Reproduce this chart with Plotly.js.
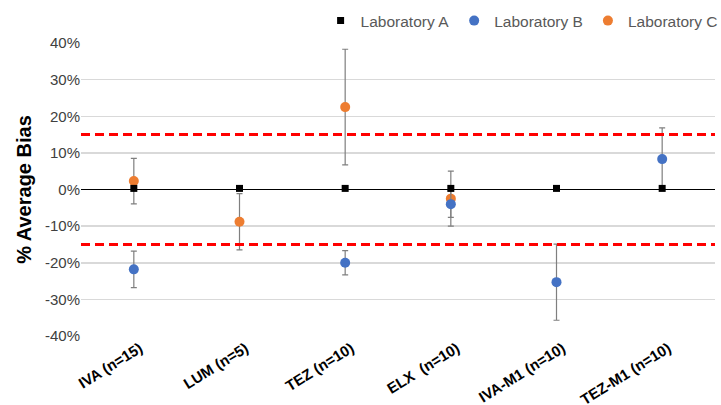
<!DOCTYPE html>
<html>
<head>
<meta charset="utf-8">
<script src="https://cdn.plot.ly/plotly-3.0.1.min.js"></script>
<style>html,body{margin:0;padding:0;background:#fff;}#chart{width:721px;height:405px;}</style>
</head>
<body>
<div id="chart"></div>
<script>
const categories = ["IVA (n=15)", "LUM (n=5)", "TEZ (n=10)", "ELX\u00a0 (n=10)", "IVA-M1 (n=10)", "TEZ-M1 (n=10)"];
const labA = [0.3, 0.3, 0.3, 0.3, 0.3, 0.3];
const labB = [-21.8, null, -20.0, -4.0, -25.3, 8.3];
const labBErr = [5.0, null, 3.3, 3.6, 10.4, 8.5];
const labC = [2.3, -8.8, 22.5, -2.5, null, null];
const labCErr = [6.2, 7.7, 15.8, 7.5, null, null];
const limits = [15, -15];
const yTicks = [-40, -30, -20, -10, 0, 10, 20, 30, 40];
const yTickText = yTicks.map(v => v + "%");

const errStyle = {type: "data", visible: true, color: "#7f7f7f", thickness: 1.2, width: 3};

const traces = [
  {
    x: categories, y: labC, name: "Laboratory C", type: "scatter", mode: "markers",
    marker: {color: "#ED7D31", size: 10, symbol: "circle"},
    error_y: Object.assign({array: labCErr}, errStyle),
    legendrank: 3
  },
  {
    x: categories, y: labB, name: "Laboratory B", type: "scatter", mode: "markers",
    marker: {color: "#4472C4", size: 10, symbol: "circle"},
    error_y: Object.assign({array: labBErr}, errStyle),
    legendrank: 2
  },
  {
    x: categories, y: labA, name: "Laboratory A", type: "scatter", mode: "markers",
    marker: {color: "#000000", size: 7, symbol: "square"},
    legendrank: 1
  }
];

const shapes = limits.map(v => ({
  type: "line", xref: "paper", x0: 0, x1: 1, yref: "y", y0: v, y1: v,
  line: {color: "#FF0000", width: 3, dash: "9px,5px"}, layer: "above"
}));

const layout = {
  width: 721, height: 405,
  margin: {l: 81, r: 6, t: 43, b: 69, autoexpand: false},
  paper_bgcolor: "#fff", plot_bgcolor: "#fff",
  showlegend: true,
  legend: {orientation: "h", x: 1.012, xanchor: "right", y: 1.075, yanchor: "middle",
    font: {family: "Arial, Liberation Sans, sans-serif", size: 15.5, color: "#595959"},
    traceorder: "normal", itemwidth: 30},
  xaxis: {
    type: "category", range: [-0.5, 5.5], showgrid: false, zeroline: false,
    showline: false, ticks: "", tickangle: -32, automargin: false, ticklabelshift: 6,
    tickfont: {family: "Arial, Liberation Sans, sans-serif", size: 15, color: "#000", weight: "bold"},
    fixedrange: true
  },
  yaxis: {
    range: [-40, 40], tickvals: yTicks, ticktext: yTickText, automargin: false,
    showgrid: true, gridcolor: "#d9d9d9", gridwidth: 1.5,
    zeroline: true, zerolinecolor: "#000000", zerolinewidth: 1.6,
    showline: false, ticks: "", ticklen: 0,
    tickfont: {family: "Arial, Liberation Sans, sans-serif", size: 15, color: "#404040"},
    title: {text: "% Average Bias", standoff: 7,
      font: {family: "Arial, Liberation Sans, sans-serif", size: 20, color: "#000", weight: "bold"}},
    fixedrange: true
  },
  shapes: shapes
};

Plotly.newPlot("chart", traces, layout, {displayModeBar: false, staticPlot: true});
</script>
</body>
</html>
